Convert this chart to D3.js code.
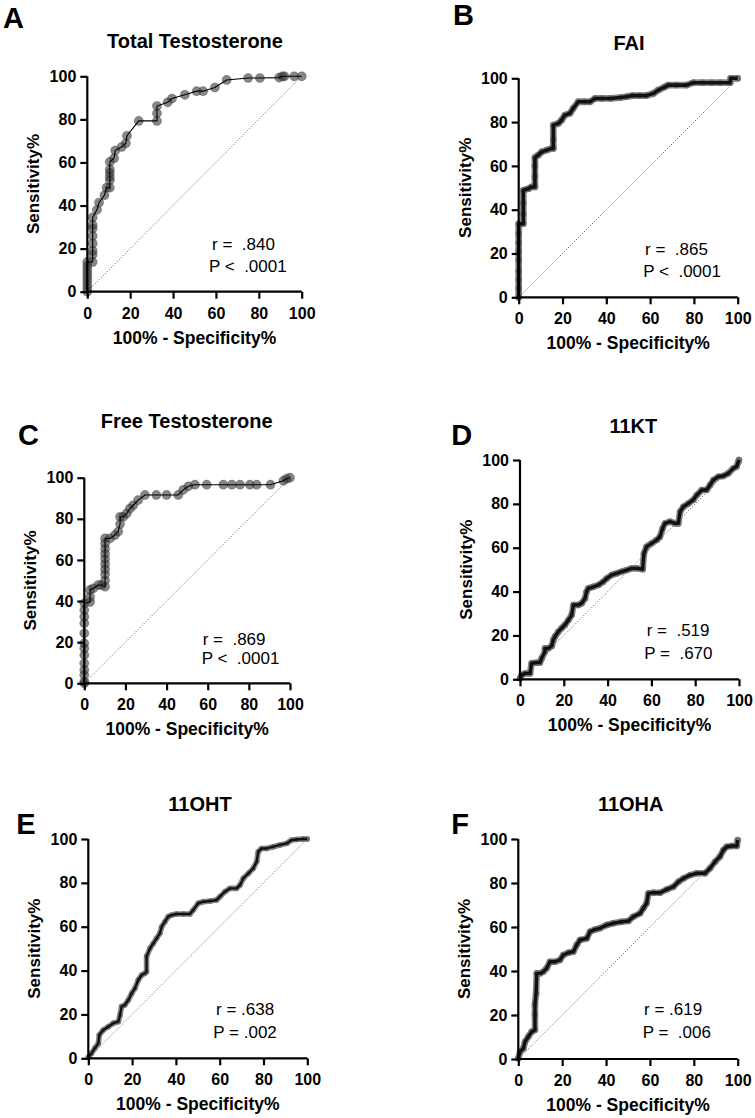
<!DOCTYPE html>
<html><head><meta charset="utf-8">
<script src="https://cdn.jsdelivr.net/npm/d3@7"></script>
<style>
body{margin:0;background:#fff}
text{font-family:"Liberation Sans",Arial,Helvetica,sans-serif}
</style>
</head><body>
<svg id="chart" width="755" height="1118"></svg>
<script>
// ---------- data ----------
const panelLetters = ["A","B","C","D","E","F"];
const panelTitles = ["Total Testosterone","FAI","Free Testosterone","11KT","11OHT","11OHA"];
const rLabels = ["r =  .840","r =  .865","r =  .869","r =  .519","r = .638","r = .619"];
const pLabels = ["P <  .0001","P <  .0001","P <  .0001","P =  .670","P = .002","P =  .006"];
const axisTicks = [0,20,40,60,80,100];
const xAxisTitle = "100% - Specificity%";
const yAxisTitle = "Sensitivity%";

// [100% - specificity, sensitivity]
const totalTestosteronePts = [[0,0],[0,1.7],[0,3.4],[0,5.2],[0,6.9],[0,8.6],[0,10.3],[0,12.1],[0,13.8],
 [2.5,13.8],[2.5,17.2],[2.5,19],[2.5,22.4],[2.5,25.9],[2.5,29.3],[2.5,31],[2.5,34.5],
 [4.5,38],[5.5,41.4],[8,44.8],[9,48.3],[10.5,48.3],[10.5,51.7],[10.5,53.4],[10.5,55.2],[10.5,56.9],[10.5,60.3],
 [12.5,62],[13,65.5],[16,67.2],[18,68.9],[18.5,72.4],[24,79.3],[32.5,79.3],[32.5,82.8],[32.5,86.2],
 [37.5,87.9],[39.5,89.7],[45.5,91.4],[51,93.1],[54,93.1],[59.5,94.8],[65,98.3],[75,99.2],[80.5,99.2],
 [89.5,99.4],[91,100],[92,100],[96.5,100],[100,100]];

const faiPts = [[0,0],[0,4],[0,8],[0,12],[0,17],[0,21],[0,25],[0,29],[0,33.6],[2.1,33.6],[2.1,38],[2.1,43],[2.1,48.9],
 [4.4,49.6],[5.9,50.4],[7.4,50.4],[7.4,55],[7.4,60],[7.4,63.8],[8.9,64.9],[10.5,66.4],[12.8,67.2],[15.1,68],
 [15.8,68],[15.8,72],[15.8,78.6],[18.1,79.4],[19.6,80.9],[21.1,83.2],[23.4,84],[24.9,86.3],[27.2,89.3],[30,89.3],[32.6,89.3],
 [34.8,90.8],[38,90.8],[42,90.8],[46.3,91.2],[49.3,91.6],[52,92.1],[55,92.1],[58.4,92.1],[61.5,93.1],[63.7,94.6],
 [66.8,96.1],[68.3,96.9],[72,96.9],[76.7,96.9],[79.7,98],[84,98],[88,98],[92,98],[96.5,98],[96.8,100],[100,100]];

const freeTestosteronePts = [[0,0],[0,0.8],[0,4],[0,6.5],[0,9.7],[0,13.8],[0,17],[0,19.5],[0,24.3],[0,29.2],[0,32.4],[0,35.6],[0,38.9],
 [2.8,39.5],[2.8,42],[2.8,45.4],[4.4,46.2],[6.8,47.8],[8.4,47.8],[10.1,47],[10.1,50],[10.1,53],[10.1,55.5],[10.1,58],
 [10.1,60.5],[10.1,63],[10.1,65.5],[10.1,68],[10.1,70.5],[12.5,70.5],[14.9,72.1],[16.5,73.8],[17.4,77.5],[17.4,81],
 [19,81],[20.6,82.6],[22.2,85],[23.8,86.6],[26.2,89.1],[29.5,91.6],[35,91.6],[40,91.6],[45.7,91.6],[48.1,94.1],
 [50.6,95.8],[53.8,96.6],[59.5,96.6],[67.6,96.6],[71.7,96.6],[75.7,96.6],[80.5,96.6],[83.8,96.6],[90.5,96.6],
 [96.8,98.5],[98.4,99.5],[100,100]];

const ketoPts = [[0,0.5],[0.8,2],[2.3,2.7],[4.6,2.7],[5.3,7.3],[7.6,7.6],[9.1,7.6],[9.9,9.6],[11.4,12.6],[11.4,14.1],
 [12.9,14.1],[14.5,15.2],[15.2,17.9],[16,19.5],[17.5,21.7],[19,23.3],[20.5,24.8],[22.1,27],[23.6,29.3],[24.4,33.9],
 [26.6,33.9],[28.2,34.7],[29.7,36.9],[30.4,40],[31.2,41.5],[33.5,42.2],[35.8,43],[38,44.5],[39.6,46],[41.9,47.6],
 [44.1,48.3],[46.4,49.1],[48.7,49.8],[51,50.6],[53.3,50.6],[56,50.2],[56.6,57.4],[57.8,60.5],[60.1,62],[62.4,63.5],
 [63.9,65],[65.1,68.8],[66.2,71.1],[68.5,71.9],[70.8,71.1],[72.3,71.1],[73.1,76.4],[74.6,78.7],[76.9,80.2],
 [79.1,81.8],[80.7,84],[83,86.3],[85.2,86.3],[86.8,88.6],[88.3,90.9],[90.6,92.4],[92.8,92.7],[95.1,93.9],
 [97.4,96.2],[98.9,97],[99.7,99.2],[100,100]];

const ohtPts = [[0,0.5],[1.5,2.3],[3,4.6],[4.6,6.8],[5,10.6],[6.8,12.9],[9.1,14.4],[11.4,16],[13.7,16.7],[14.5,19.8],
 [15.2,23.6],[16.7,24.3],[18.3,26.6],[19.8,29.6],[21.3,31.9],[22.8,35.7],[24.4,38],[25.9,38.8],[26.6,39.5],[26.6,46.4],
 [28.2,50.2],[29.7,52.4],[31.2,54.7],[32.7,57],[33.5,60],[35,62.3],[36.5,64.6],[38,65.3],[40.3,65.8],[43.4,65.8],
 [46.4,65.8],[47.9,67.6],[50.2,70.7],[52.5,71.4],[55.6,71.7],[58.6,72.2],[60.1,73.7],[62.4,76],[64.7,77.5],
 [67.7,77.5],[69.3,79],[70.8,82.1],[73.1,84.3],[75.3,86.6],[76.9,89.7],[77.6,94.2],[79.1,95.7],[81.4,95.7],
 [84.5,96.5],[87.5,97.3],[90.6,98],[92.8,99.5],[95.1,99.8],[98.2,100],[100,100]];

const ohaPts = [[0,0.3],[0.8,3.3],[2.3,4.8],[3.1,7.9],[4.6,10.2],[6.1,12.4],[7.6,13.2],[7.6,20],[7.6,25],[8.1,29.8],
 [8.4,38.9],[9.9,38.9],[11.4,39.7],[12.9,41.2],[14.4,44.2],[16.7,44.2],[19,45],[20.5,47.3],[22.8,48.3],[25.1,48.8],
 [26.6,51.8],[28.1,54.1],[31.2,54.8],[32.7,57.9],[35,58.9],[37.2,59.4],[40.3,60.9],[43.3,61.7],[47.1,62.4],
 [50.2,62.7],[52.4,64.7],[55.5,66.2],[57,68.5],[58.5,70.8],[59.3,75.3],[61.6,75.6],[64.6,75.6],[67.7,77.1],
 [70.7,78.3],[73,80.6],[75.3,82.1],[78.3,83.6],[81.3,84.4],[85.1,84.4],[87.4,86.7],[89.7,89.7],[91.9,92],
 [93.5,95],[95,96.5],[97.3,96.8],[99.6,96.8],[100,99.5]];

const panelData = [totalTestosteronePts, faiPts, freeTestosteronePts, ketoPts, ohtPts, ohaPts];

// ---------- layout (pixel geometry per panel) ----------
const layout = [
 {L:87.3, R:301.7, T:76.3, B:291.7, lx:3, ly:28.3, tx:195, ty:48.3, rx:212, ry:250, px:209, py:271.5, sparse:true},
 {L:518.7, R:737.7, T:78.3, B:297.3, lx:453, ly:25, tx:629, ty:50, rx:645, ry:254.5, px:643.3, py:276.5, sparse:false, core:3.6},
 {L:84.3, R:290, T:477.7, B:683.3, lx:18, ly:445, tx:186.7, ty:428.3, rx:202.7, ry:645, px:201.7, py:664, sparse:true},
 {L:520, R:739, T:460, B:679.3, lx:451.3, ly:445, tx:633.3, ty:433.3, rx:646.7, ry:635.7, px:644.3, py:659.3, sparse:false, core:3.4},
 {L:88.3, R:307.3, T:839, B:1058.3, lx:16.3, ly:834.3, tx:200, ty:811, rx:216, ry:1015.3, px:213.3, py:1038.3, sparse:false, core:2.4},
 {L:518.3, R:737.7, T:839, B:1059, lx:451.3, ly:834, tx:630.7, ty:811, rx:644, ry:1015.3, px:642.7, py:1038, sparse:false, core:3.4}
];

const svg = d3.select("#chart");
svg.append("rect").attr("width",755).attr("height",1118).attr("fill","#fff");

layout.forEach((g, i) => {
  const pts = panelData[i];
  const x = d3.scaleLinear().domain([0,100]).range([g.L, g.R]);
  const y = d3.scaleLinear().domain([0,100]).range([g.B, g.T]);
  const panel = svg.append("g");

  // panel letter
  panel.append("text").attr("x", g.lx).attr("y", g.ly)
    .attr("font-size", 29).attr("font-weight", "bold").attr("fill", "#000").text(panelLetters[i]);
  // title
  panel.append("text").attr("x", g.tx).attr("y", g.ty).attr("text-anchor","middle")
    .attr("font-size", 20).attr("font-weight","bold").attr("fill","#000").text(panelTitles[i]);

  // diagonal reference line
  panel.append("line")
    .attr("x1", x(0)).attr("y1", y(0)).attr("x2", x(100)).attr("y2", y(100))
    .attr("stroke", "#666").attr("stroke-width", 0.9).attr("stroke-dasharray", "1.2,1.6");

  const line = d3.line().x(d => x(d[0])).y(d => y(d[1]));

  if (g.sparse) {
    panel.append("g").selectAll("circle").data(pts).join("circle")
      .attr("cx", d => x(d[0])).attr("cy", d => y(d[1])).attr("r", 4.6)
      .attr("fill", "#3c3c3c").attr("fill-opacity", 0.62)
      .attr("stroke", "#222").attr("stroke-opacity", 0.4).attr("stroke-width", 0.6);
    panel.append("path").datum(pts).attr("d", line)
      .attr("fill","none").attr("stroke","#000").attr("stroke-width",1.1);
  } else {
    panel.append("path").datum(pts).attr("d", line)
      .attr("fill","none").attr("stroke","#8a8a8a").attr("stroke-width", g.core + 3.2)
      .attr("stroke-linejoin","round").attr("stroke-linecap","round");
    panel.append("g").selectAll("circle").data(pts).join("circle")
      .attr("cx", d => x(d[0])).attr("cy", d => y(d[1])).attr("r", (g.core + 3)/2)
      .attr("fill", "#707070");
    panel.append("path").datum(pts).attr("d", line)
      .attr("fill","none").attr("stroke","#111").attr("stroke-width", g.core)
      .attr("stroke-linejoin","round");
  }

  // axes
  const xAxis = d3.axisBottom(x).tickValues(axisTicks).tickSize(7).tickPadding(6).tickFormat(d3.format("d"));
  const yAxis = d3.axisLeft(y).tickValues(axisTicks).tickSize(7).tickPadding(4).tickFormat(d3.format("d"));
  const gx = panel.append("g").attr("transform", `translate(0,${g.B})`).call(xAxis);
  const gy = panel.append("g").attr("transform", `translate(${g.L},0)`).call(yAxis);
  [gx, gy].forEach(a => {
    a.select(".domain").attr("stroke","#000").attr("stroke-width",2.2);
    a.selectAll(".tick line").attr("stroke","#000").attr("stroke-width",2.2);
    a.selectAll(".tick text").attr("fill","#000").attr("font-size",16).attr("font-weight","bold")
      .attr("font-family","'Liberation Sans',Arial,sans-serif");
  });
  gx.select(".domain").attr("d", `M${g.L},0H${g.R}`);
  gy.select(".domain").attr("d", `M0,${g.B}V${g.T}`);
  gx.selectAll(".tick text").attr("dy", null).attr("y", 27).attr("dominant-baseline","alphabetic");

  // axis titles
  panel.append("text").attr("x", (g.L + g.R)/2).attr("y", g.B + 52).attr("text-anchor","middle")
    .attr("font-size", 17.5).attr("font-weight","bold").attr("fill","#000").text(xAxisTitle);
  panel.append("text")
    .attr("transform", `translate(${g.L - 54},${(g.T + g.B)/2}) rotate(-90)`)
    .attr("text-anchor","middle").attr("dy","0.36em")
    .attr("font-size", 17).attr("font-weight","bold").attr("fill","#000").text(yAxisTitle);

  // statistics annotation
  panel.append("text").attr("x", g.rx).attr("y", g.ry).attr("font-size",17)
    .attr("fill","#000").style("white-space","pre").text(rLabels[i]);
  panel.append("text").attr("x", g.px).attr("y", g.py).attr("font-size",17)
    .attr("fill","#000").style("white-space","pre").text(pLabels[i]);
});
</script>
</body></html>
